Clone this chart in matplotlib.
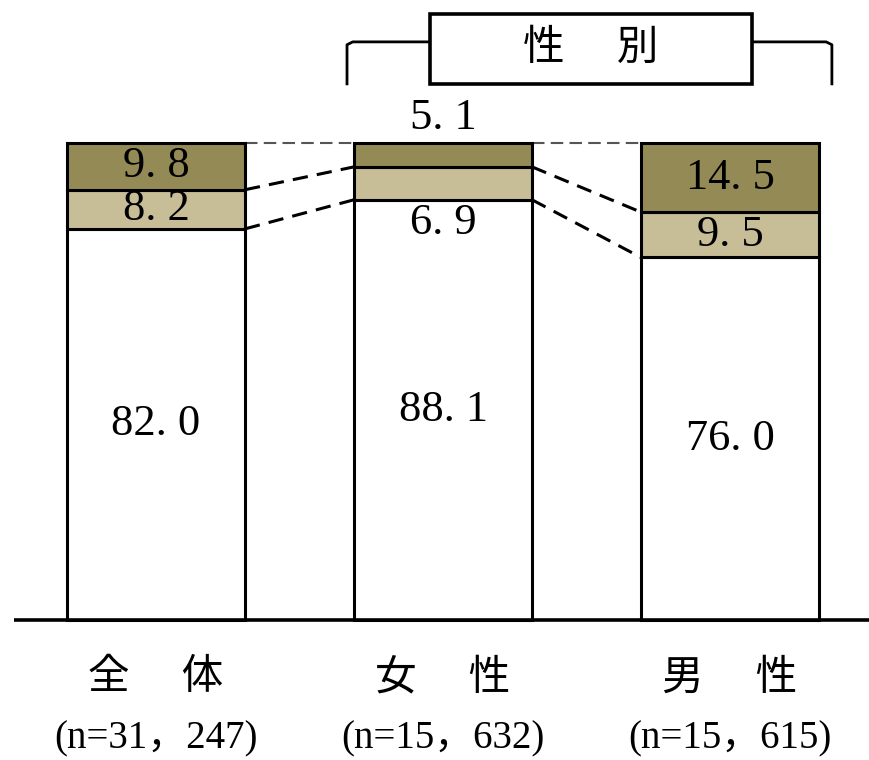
import matplotlib
matplotlib.use("Agg")
import matplotlib.pyplot as plt
from matplotlib.patches import Rectangle

plt.rcParams['font.family'] = ['Liberation Serif', 'Noto Sans CJK JP']

groups = ["全\u3000 体", "女\u3000 性", "男\u3000 性"]
counts = ["(n=31，247)", "(n=15，632)", "(n=15，615)"]
white_vals = [82.0, 88.1, 76.0]
light_vals = [8.2, 6.9, 9.5]
dark_vals = [9.8, 5.1, 14.5]
header = "性\u3000 別"

c_dark = "#948a55"
c_light = "#c7be98"

fig = plt.figure(figsize=(8.69, 7.6), dpi=100)
ax = fig.add_axes([0, 0, 1, 1])
ax.set_xlim(-0.5436, 2.4843)
ax.set_ylim(-29.35, 129.98)
ax.axis("off")

x = list(range(len(groups)))
w = 0.62
ax.bar(x, white_vals, width=w, color="white", edgecolor="black", linewidth=2.2, zorder=3)
ax.bar(x, light_vals, width=w, bottom=white_vals, color=c_light, edgecolor="black", linewidth=2.2, zorder=3)
tops = [a + b for a, b in zip(white_vals, light_vals)]
ax.bar(x, dark_vals, width=w, bottom=tops, color=c_dark, edgecolor="black", linewidth=2.2, zorder=3)

# baseline
ax.plot([-0.495, 2.49], [0, 0], color="black", lw=2.6, zorder=4, solid_capstyle="butt")

# dashed connectors
for i in range(len(groups) - 1):
    x0 = x[i] + w / 2
    x1 = x[i + 1] - w / 2
    ax.plot([x0, x1], [white_vals[i], white_vals[i + 1]], color="black", lw=2.2,
            dashes=(5, 3), zorder=2)
    ax.plot([x0, x1], [tops[i], tops[i + 1]], color="black", lw=2.2,
            dashes=(5, 3), zorder=2)
    ax.plot([x0, x1], [100, 100], color="#555555", lw=1.5, dashes=(6, 3), zorder=2)

fs = 32
fmt = lambda v: f"{v:.1f}".replace(".", ". ")
for i in x:
    ax.text(i, white_vals[i] / 2, fmt(white_vals[i]), ha="center", va="center", fontsize=fs, zorder=5)
    if light_vals[i] >= 8:
        ax.text(i, white_vals[i] + light_vals[i] / 2, fmt(light_vals[i]), ha="center", va="center",
                fontsize=fs, zorder=5)
        ax.text(i, tops[i] + dark_vals[i] / 2, fmt(dark_vals[i]), ha="center", va="center",
                fontsize=fs, zorder=5)
    else:
        ax.text(i, white_vals[i] - 4.8, fmt(light_vals[i]), ha="center", va="center", fontsize=fs, zorder=5)
        ax.text(i, 105.3, fmt(dark_vals[i]), ha="center", va="center", fontsize=fs, zorder=5)

for i in x:
    ax.text(i, -12.4, groups[i], ha="center", va="center", fontsize=30)
    ax.text(i, -25.0, counts[i], ha="center", va="center", fontsize=28)

# header bracket
xl, xr = 0.6655, 2.355
yb, yt = 112.4, 121.2
ax.plot([xl, xl, xl + 0.02, xr - 0.02, xr, xr], [yb, yt - 0.6, yt, yt, yt - 0.6, yb],
        color="black", lw=2.0, zorder=2)
ax.add_patch(Rectangle((0.9547, 112.4), 1.122, 14.7, facecolor="white", edgecolor="black",
                       lw=2.6, zorder=3))
ax.text(1.515, 119.6, header, ha="center", va="center", fontsize=30, zorder=4)

fig.savefig("out.png", dpi=100)
